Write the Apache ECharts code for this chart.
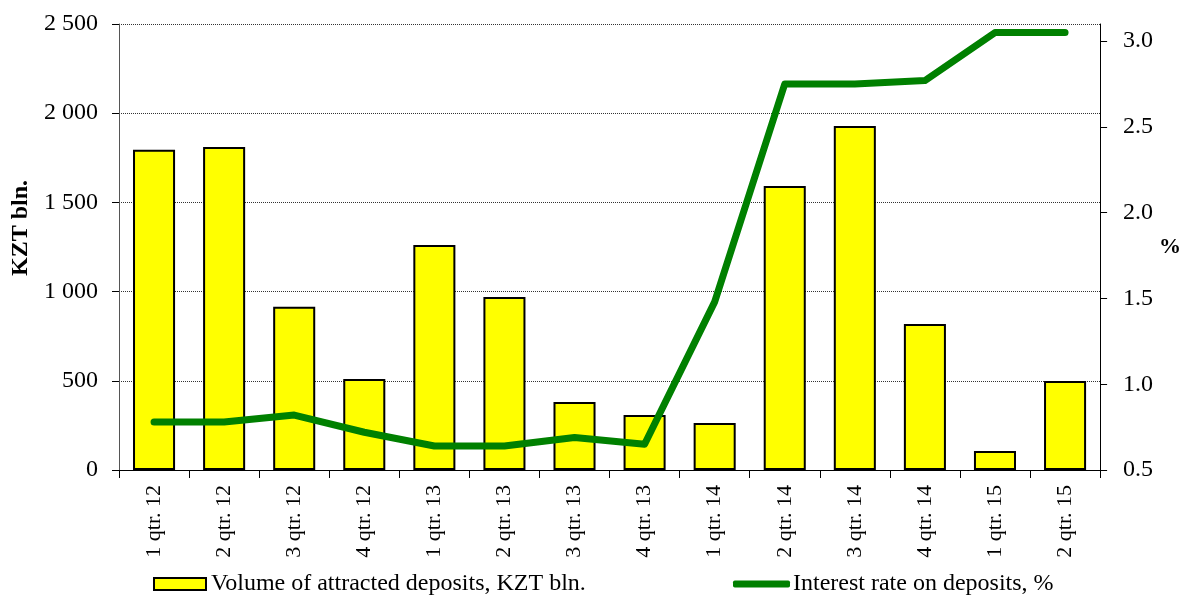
<!DOCTYPE html>
<html>
<head>
<meta charset="utf-8">
<script src="https://cdn.jsdelivr.net/npm/echarts@6/dist/echarts.min.js"></script>
<style>
  html, body { margin: 0; padding: 0; background: #fff; }
  #chart { width: 1184px; height: 595px; }
</style>
</head>
<body>
<div id="chart"></div>
<script>
// Quarterly categories
const quarters = [
  '1 qtr. 12', '2 qtr. 12', '3 qtr. 12', '4 qtr. 12',
  '1 qtr. 13', '2 qtr. 13', '3 qtr. 13', '4 qtr. 13',
  '1 qtr. 14', '2 qtr. 14', '3 qtr. 14', '4 qtr. 14',
  '1 qtr. 15', '2 qtr. 15'
];
// Volume of attracted deposits, KZT bln.
const depositVolume = [1795, 1810, 915, 510, 1261, 970, 381, 308, 263, 1592, 1928, 818, 106, 499];
// Interest rate on deposits, %
const interestRate = [0.78, 0.78, 0.82, 0.72, 0.64, 0.64, 0.69, 0.65, 1.48, 2.75, 2.75, 2.77, 3.05, 3.05];

const volumeName = 'Volume of attracted deposits, KZT bln.';
const rateName = 'Interest rate on deposits, %';

const FONT = '"Liberation Serif", "Times New Roman", serif';
const fmtThousands = v => String(v).replace(/\B(?=(\d{3})+(?!\d))/g, ' ');

const chart = echarts.init(document.getElementById('chart'), null, { renderer: 'canvas' });
chart.setOption({
  animation: false,
  backgroundColor: '#ffffff',
  textStyle: { fontFamily: FONT, color: '#000' },
  grid: { left: 119, right: 77, top: 24, bottom: 125, containLabel: false },
  legend: [
    {
      data: [volumeName],
      left: 148, top: 567,
      icon: 'rect', itemWidth: 52, itemHeight: 12, itemGap: 4,
      textStyle: { fontFamily: FONT, fontSize: 24, color: '#000' }
    },
    {
      data: [rateName],
      left: 728, top: 567,
      icon: 'roundRect', itemWidth: 57, itemHeight: 7, itemGap: 4,
      textStyle: { fontFamily: FONT, fontSize: 24, color: '#000', padding: [0, 0, 0, -2] }
    }
  ],
  xAxis: {
    type: 'category',
    data: quarters,
    boundaryGap: true,
    axisLine: { lineStyle: { color: '#000', width: 1 } },
    axisTick: { show: true, length: 8, alignWithLabel: false, lineStyle: { color: '#000' } },
    axisLabel: { rotate: 90, fontFamily: FONT, fontSize: 22, color: '#000', margin: 15, interval: 0 },
    splitLine: { show: false }
  },
  yAxis: [
    {
      type: 'value',
      min: 0, max: 2500, interval: 500,
      name: 'KZT bln.',
      nameLocation: 'middle',
      nameGap: 85,
      nameRotate: 90,
      nameTextStyle: { fontFamily: FONT, fontSize: 24, fontWeight: 'bold', color: '#000', padding: [0, 0, 0, 38] },
      axisLine: { show: true, lineStyle: { color: '#555', width: 1 } },
      axisTick: { show: true, length: 7, lineStyle: { color: '#000' } },
      axisLabel: { fontFamily: FONT, fontSize: 24, color: '#000', margin: 21, formatter: fmtThousands },
      splitLine: { show: true, lineStyle: { color: '#333', type: [1, 1], width: 1 } }
    },
    {
      type: 'value',
      min: 0.5, max: 3.1, interval: 0.5,
      position: 'right',
      name: '%',
      nameLocation: 'middle',
      nameGap: 55,
      nameRotate: 0,
      nameTextStyle: { fontFamily: FONT, fontSize: 22, fontWeight: 'bold', color: '#000' },
      axisLine: { show: true, lineStyle: { color: '#000', width: 1 } },
      axisTick: { show: true, length: 7, lineStyle: { color: '#000' } },
      axisLabel: {
        fontFamily: FONT, fontSize: 24, color: '#000', margin: 23,
        showMaxLabel: false,
        formatter: v => v.toFixed(1)
      },
      splitLine: { show: false }
    }
  ],
  series: [
    {
      name: volumeName,
      type: 'bar',
      data: depositVolume,
      yAxisIndex: 0,
      barCategoryGap: '40%',
      itemStyle: { color: '#ffff00', borderColor: '#000', borderWidth: 2 },
      z: 2
    },
    {
      name: rateName,
      type: 'line',
      data: interestRate,
      yAxisIndex: 1,
      showSymbol: false,
      symbol: 'none',
      lineStyle: { color: '#008000', width: 7, cap: 'round', join: 'round' },
      itemStyle: { color: '#008000' },
      z: 3
    }
  ]
});
</script>
</body>
</html>
